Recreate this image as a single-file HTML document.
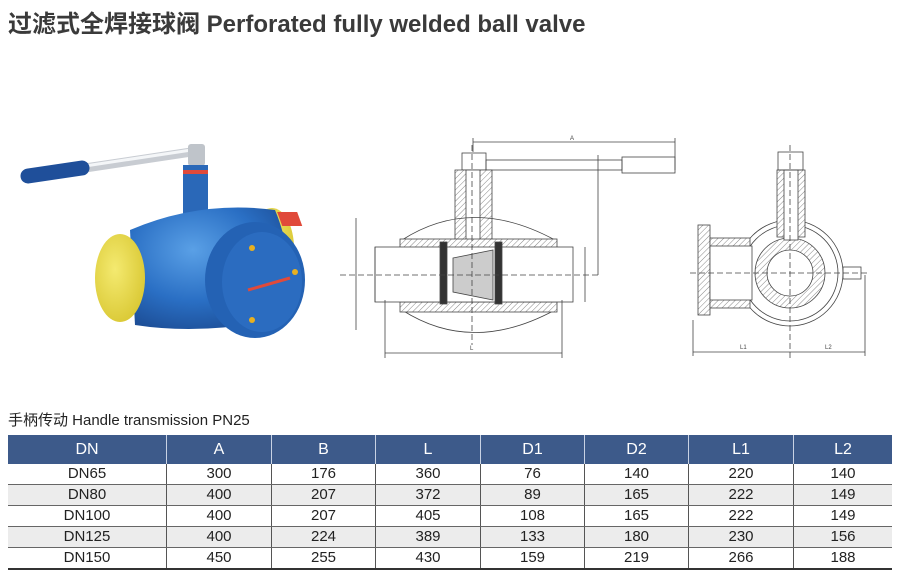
<!DOCTYPE html>
<html><head><meta charset="utf-8"><style>
html,body{margin:0;padding:0;background:#fff;width:900px;height:584px;overflow:hidden;position:relative;font-family:"Liberation Sans","Noto Sans CJK SC",sans-serif}
.t{position:absolute;left:8px;top:4px;font-size:24px;font-weight:bold;color:#3a3a3a;white-space:nowrap}
.sub{position:absolute;left:8px;top:409px;font-size:15px;color:#222;white-space:nowrap}
table{position:absolute;left:8px;top:435px;border-collapse:collapse;width:884px;font-size:15px;color:#222}
th{background:#3d5a8a;color:#fff;font-weight:normal;height:29px;padding:0;border-left:1px solid #c8d2e4;font-size:16px}
th:first-child{border-left:none}
td{height:20px;padding:0;text-align:center;border-left:1px solid #555;border-bottom:1px solid #666;line-height:20px}
td:first-child{border-left:none}
tr.g td{background:#ececec}
tr.last td{border-bottom:2px solid #333}
</style></head><body>
<div class="t">过滤式全焊接球阀 Perforated fully welded ball valve</div>

<svg width="900" height="400" style="position:absolute;left:0;top:0">
<defs>
<pattern id="h" width="4" height="4" patternUnits="userSpaceOnUse" patternTransform="rotate(45)"><rect width="4" height="4" fill="#fff"/><line x1="0" y1="0" x2="0" y2="4" stroke="#888" stroke-width="1"/></pattern>
<radialGradient id="bb" cx="0.4" cy="0.35" r="0.7"><stop offset="0" stop-color="#5aa0e6"/><stop offset="0.6" stop-color="#2a6fc4"/><stop offset="1" stop-color="#1d4f98"/></radialGradient>
<radialGradient id="yy" cx="0.4" cy="0.4" r="0.7"><stop offset="0" stop-color="#f4ea70"/><stop offset="1" stop-color="#d8c630"/></radialGradient>
</defs>
<line x1="85" y1="168" x2="198" y2="151" stroke="#c8ccd2" stroke-width="9" stroke-linecap="round"/>
<line x1="85" y1="166" x2="198" y2="149" stroke="#f4f6f8" stroke-width="3"/>
<rect x="188" y="144" width="17" height="22" rx="3" fill="#bfc4ca"/>
<line x1="28" y1="176" x2="82" y2="168" stroke="#1f4f9a" stroke-width="15" stroke-linecap="round"/>
<rect x="183" y="165" width="25" height="50" fill="#2a68b8"/>
<rect x="183" y="170" width="25" height="4" fill="#e04a3a"/>
<ellipse cx="272" cy="248" rx="22" ry="40" fill="url(#yy)"/>
<path d="M130 230 Q200 200 275 210 Q300 270 275 320 Q200 335 135 325 Z" fill="url(#bb)"/>
<rect x="200" y="212" width="20" height="14" fill="#e04a3a" transform="skewX(20)"/>
<ellipse cx="120" cy="278" rx="25" ry="44" fill="url(#yy)"/>
<ellipse cx="255" cy="280" rx="50" ry="58" fill="#2462b4"/>
<ellipse cx="262" cy="282" rx="40" ry="50" fill="#2b6cc0"/>
<line x1="248" y1="290" x2="290" y2="278" stroke="#e04a3a" stroke-width="3"/>
<circle cx="252" cy="248" r="3" fill="#e8b020"/><circle cx="295" cy="272" r="3" fill="#e8b020"/><circle cx="252" cy="320" r="3" fill="#e8b020"/>
<g fill="none" stroke="#444" stroke-width="0.8">
<line x1="473" y1="142" x2="675" y2="142"/>
<line x1="473" y1="138" x2="473" y2="152"/><line x1="675" y1="138" x2="675" y2="170"/>
<rect x="462" y="153" width="24" height="17"/>
<rect x="486" y="160" width="136" height="10"/>
<rect x="622" y="157" width="53" height="16"/>
<line x1="598" y1="155" x2="598" y2="275"/>
<path d="M455 170 L492 170 L492 240 L455 240 Z" fill="url(#h)"/>
<rect x="466" y="170" width="14" height="72" fill="#fff"/>
<path d="M402 240 Q472 195 555 240" />
<path d="M402 310 Q472 355 555 310" />
<rect x="400" y="239" width="157" height="10" fill="url(#h)"/>
<rect x="400" y="302" width="157" height="10" fill="url(#h)"/>
<rect x="375" y="247" width="198" height="55" fill="#fff"/>
<rect x="440" y="242" width="7" height="62" fill="#333"/>
<rect x="495" y="242" width="7" height="62" fill="#333"/>
<path d="M453 258 L493 250 L493 300 L453 292 Z" fill="#ccc"/>
<line x1="356" y1="218" x2="356" y2="330"/>
<line x1="375" y1="247" x2="375" y2="302"/>
<line x1="585" y1="247" x2="585" y2="302"/>
<line x1="385" y1="353" x2="562" y2="353"/>
<line x1="385" y1="300" x2="385" y2="358"/><line x1="562" y1="300" x2="562" y2="358"/>
<line x1="340" y1="275" x2="600" y2="275" stroke-dasharray="6,3"/>
<line x1="472" y1="145" x2="472" y2="345" stroke-dasharray="6,3"/>
<circle cx="790" cy="273" r="53" fill="#fff"/>
<circle cx="790" cy="273" r="48"/>
<circle cx="790" cy="273" r="35" fill="url(#h)"/>
<circle cx="790" cy="273" r="23" fill="#fff"/>
<path d="M777 170 L805 170 L805 237 L777 237 Z" fill="url(#h)"/>
<rect x="784" y="170" width="14" height="70" fill="#fff"/>
<rect x="778" y="152" width="25" height="18"/>
<rect x="698" y="225" width="12" height="90" fill="url(#h)"/>
<rect x="710" y="238" width="40" height="70" fill="url(#h)"/>
<rect x="710" y="246" width="42" height="54" fill="#fff"/>
<rect x="843" y="267" width="18" height="12"/>
<line x1="693" y1="352" x2="865" y2="352"/>
<line x1="693" y1="320" x2="693" y2="356"/><line x1="865" y1="275" x2="865" y2="356"/>
<line x1="690" y1="273" x2="870" y2="273" stroke-dasharray="6,3"/>
<line x1="790" y1="145" x2="790" y2="360" stroke-dasharray="6,3"/>
</g>
<g font-size="6" fill="#444" font-family="Liberation Sans">
<text x="570" y="140">A</text><text x="470" y="350">L</text><text x="740" y="349">L1</text><text x="825" y="349">L2</text>
</g>
</svg>

<div class="sub">手柄传动 Handle transmission PN25</div>
<table>
<tr><th style="width:158px">DN</th><th style="width:104px">A</th><th style="width:103px">B</th><th style="width:104px">L</th><th style="width:103px">D1</th><th style="width:103px">D2</th><th style="width:104px">L1</th><th>L2</th></tr>
<tr><td>DN65</td><td>300</td><td>176</td><td>360</td><td>76</td><td>140</td><td>220</td><td>140</td></tr>
<tr class="g"><td>DN80</td><td>400</td><td>207</td><td>372</td><td>89</td><td>165</td><td>222</td><td>149</td></tr>
<tr><td>DN100</td><td>400</td><td>207</td><td>405</td><td>108</td><td>165</td><td>222</td><td>149</td></tr>
<tr class="g"><td>DN125</td><td>400</td><td>224</td><td>389</td><td>133</td><td>180</td><td>230</td><td>156</td></tr>
<tr class="last"><td>DN150</td><td>450</td><td>255</td><td>430</td><td>159</td><td>219</td><td>266</td><td>188</td></tr>
</table>
</body></html>
